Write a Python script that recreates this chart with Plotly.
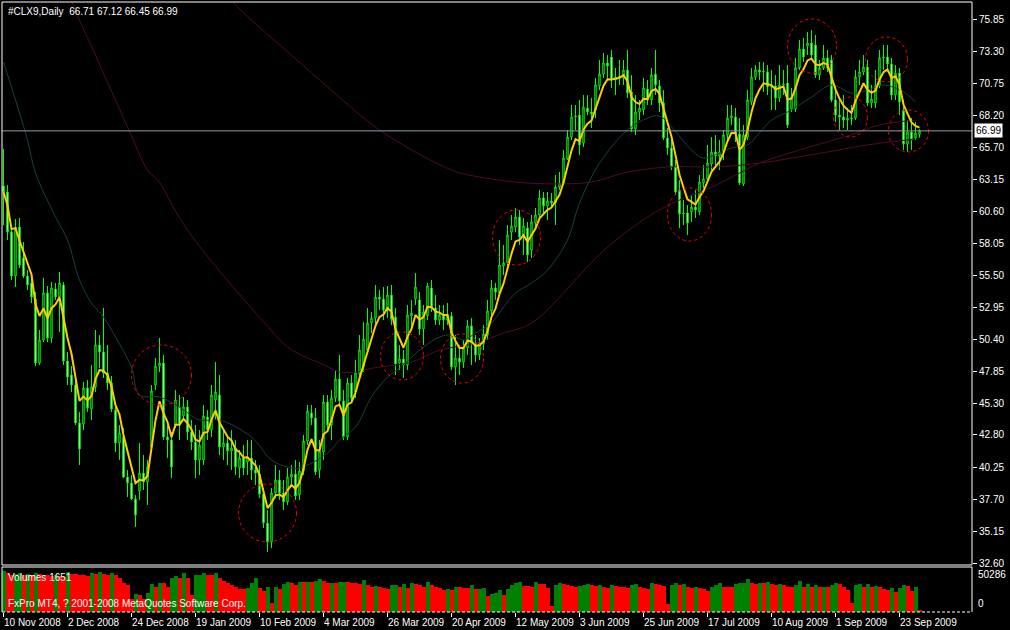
import plotly.graph_objects as go
import pandas as pd

# ---------------- data ----------------
date_labels = ["10 Nov 2008", "2 Dec 2008", "24 Dec 2008", "19 Jan 2009", "10 Feb 2009",
               "4 Mar 2009", "26 Mar 2009", "20 Apr 2009", "12 May 2009", "3 Jun 2009",
               "25 Jun 2009", "17 Jul 2009", "10 Aug 2009", "1 Sep 2009", "23 Sep 2009"]
date_bars = [0, 16, 32, 48, 64, 80, 96, 112, 128, 144, 160, 176, 192, 208, 224]

price_ticks = ["75.85", "73.30", "70.75", "68.20", "65.70", "63.15", "60.60", "58.05", "55.50",
               "52.95", "50.40", "47.85", "45.30", "42.80", "40.25", "37.70", "35.15", "32.60"]

opens = [62.60, 62.13, 58.94, 55.44, 59.34, 56.88, 55.44, 54.89, 53.61, 48.52,
         50.35, 54.09, 50.51, 54.41, 53.77, 54.73, 48.68, 47.57, 46.77, 43.75,
         43.67, 46.53, 44.86, 46.61, 49.96, 49.40, 47.73, 46.93, 44.78, 42.16,
         42.64, 39.45, 38.98, 37.71, 38.34, 39.77, 39.06, 41.84, 46.77, 48.28,
         48.52, 42.64, 42.40, 43.59, 45.02, 44.31, 45.02, 43.03, 42.24, 40.81,
         40.81, 44.23, 43.19, 45.58, 45.98, 41.84, 42.16, 41.52, 41.76, 40.17,
         40.97, 40.65, 40.97, 40.01, 39.69, 38.10, 35.79, 34.28, 38.18, 39.22,
         38.18, 37.47, 39.45, 39.69, 38.02, 39.93, 42.32, 44.55, 44.15, 40.01,
         41.44, 45.42, 43.59, 45.74, 47.25, 45.50, 42.64, 46.93, 46.22, 47.65,
         48.20, 49.56, 51.71, 52.10, 53.77, 53.61, 52.74, 53.93, 52.18, 48.52,
         48.84, 48.36, 52.26, 53.61, 53.54, 51.23, 52.26, 54.49, 52.90, 51.94,
         52.34, 51.94, 52.26, 48.20, 48.92, 48.60, 49.72, 51.47, 50.11, 49.16,
         50.04, 50.75, 52.66, 54.49, 54.09, 56.24, 56.48, 58.94, 59.34, 60.14,
         58.55, 59.26, 57.51, 59.66, 60.30, 61.65, 61.01, 61.41, 61.25, 62.52,
         62.84, 64.75, 66.50, 68.09, 68.25, 66.02, 68.81, 68.49, 68.65, 70.56,
         71.51, 72.39, 72.87, 71.04, 71.27, 71.20, 71.83, 70.08, 67.14, 68.49,
         68.65, 70.32, 69.45, 71.51, 70.56, 69.21, 66.42, 65.63, 64.12, 62.29,
         60.38, 60.46, 60.54, 60.93, 60.54, 62.84, 63.16, 64.35, 65.31, 64.99,
         65.31, 66.66, 68.01, 68.09, 66.74, 62.76, 66.50, 69.29, 71.27, 71.83,
         71.67, 71.67, 70.48, 70.56, 69.60, 70.64, 70.80, 68.73, 68.73, 72.01,
         73.50, 73.74, 73.98, 73.82, 71.43, 71.99, 72.79, 72.63, 69.45, 68.25,
         68.09, 67.85, 68.01, 68.01, 71.27, 71.67, 72.07, 69.21, 69.21, 70.64,
         72.79, 72.87, 72.31, 69.84, 71.59, 68.65, 65.95, 66.90, 66.42, 66.71]

highs = [65.55, 62.68, 59.26, 59.98, 60.06, 58.15, 55.92, 55.68, 54.17, 51.15,
         55.29, 54.65, 54.97, 54.89, 55.76, 54.97, 49.40, 48.28, 47.33, 44.63,
         47.01, 47.17, 48.36, 51.15, 50.75, 52.90, 49.96, 47.49, 45.18, 43.59,
         43.35, 40.01, 39.61, 38.02, 42.16, 41.20, 40.81, 46.77, 48.92, 50.51,
         49.16, 43.59, 43.03, 46.38, 45.98, 45.82, 45.58, 43.99, 43.59, 43.19,
         45.18, 44.78, 46.77, 48.60, 47.57, 43.19, 42.80, 43.19, 42.40, 41.60,
         42.00, 42.40, 42.40, 40.81, 40.41, 38.58, 36.83, 38.58, 40.41, 40.01,
         39.22, 40.17, 40.41, 40.81, 40.65, 42.80, 45.18, 45.18, 44.94, 42.40,
         45.98, 45.98, 46.38, 47.97, 49.16, 46.38, 47.33, 47.57, 48.76, 50.75,
         51.78, 52.90, 52.58, 54.73, 54.33, 54.57, 54.65, 54.73, 52.90, 49.96,
         49.56, 53.14, 53.54, 55.68, 54.17, 53.14, 54.89, 55.13, 53.93, 53.14,
         53.14, 53.30, 52.58, 50.75, 49.96, 50.35, 51.94, 52.10, 50.75, 50.51,
         51.55, 53.54, 55.13, 54.89, 58.31, 57.91, 59.50, 60.30, 60.85, 60.69,
         60.06, 59.74, 60.30, 60.85, 62.29, 62.13, 62.13, 62.05, 63.48, 63.72,
         65.47, 67.06, 69.05, 69.05, 69.45, 69.84, 69.84, 69.60, 71.20, 72.63,
         73.18, 73.02, 73.42, 71.99, 72.63, 72.63, 73.42, 71.43, 69.84, 69.45,
         71.20, 71.04, 71.99, 73.42, 71.04, 70.24, 67.22, 66.26, 64.67, 63.08,
         61.49, 61.09, 61.89, 62.29, 63.48, 64.27, 65.87, 66.50, 66.66, 66.26,
         67.06, 69.05, 69.05, 68.81, 68.01, 67.46, 70.24, 71.99, 72.23, 72.47,
         72.47, 72.23, 71.83, 71.43, 72.23, 71.83, 72.23, 70.40, 72.79, 74.22,
         74.38, 74.85, 75.01, 74.62, 72.63, 73.82, 73.42, 73.02, 70.64, 69.45,
         69.84, 68.81, 69.05, 71.83, 72.63, 73.02, 72.63, 70.64, 71.83, 73.42,
         73.82, 73.82, 72.79, 72.23, 71.99, 69.45, 67.85, 68.01, 67.69, 67.12]

lows = [59.50, 58.31, 55.13, 54.57, 56.08, 55.29, 54.33, 53.30, 48.28, 48.36,
        50.19, 50.19, 50.11, 53.54, 50.99, 48.36, 46.77, 46.22, 43.59, 40.41,
        43.19, 44.63, 43.99, 46.22, 48.13, 47.33, 46.38, 44.63, 41.44, 40.81,
        39.37, 37.86, 37.63, 35.48, 37.63, 38.42, 37.23, 41.60, 46.38, 47.81,
        42.40, 40.97, 39.37, 43.35, 42.40, 43.99, 42.40, 41.60, 39.37, 39.61,
        40.41, 42.40, 42.64, 43.99, 41.20, 40.81, 40.41, 40.01, 39.61, 39.37,
        39.61, 39.61, 39.22, 38.82, 37.78, 35.40, 33.49, 33.81, 37.78, 37.63,
        36.83, 37.23, 38.82, 37.63, 37.63, 39.61, 42.00, 43.59, 39.61, 39.37,
        40.81, 43.19, 42.40, 45.42, 45.18, 42.40, 42.40, 45.34, 45.74, 47.17,
        47.81, 49.40, 50.91, 51.55, 52.74, 51.94, 52.10, 51.55, 47.57, 47.97,
        47.33, 47.97, 51.15, 53.14, 50.75, 49.96, 51.94, 52.58, 51.55, 51.55,
        51.15, 51.55, 47.97, 46.77, 47.57, 48.13, 49.16, 48.36, 48.60, 48.76,
        49.56, 50.35, 52.34, 53.54, 53.93, 55.52, 56.08, 58.31, 58.94, 57.91,
        57.11, 56.56, 56.88, 59.10, 59.90, 60.30, 59.90, 60.85, 59.50, 62.29,
        62.68, 64.67, 66.26, 67.06, 65.07, 65.71, 68.25, 67.22, 68.01, 70.24,
        71.20, 71.04, 70.40, 69.84, 70.64, 70.64, 69.60, 66.90, 66.66, 67.85,
        68.25, 69.05, 69.05, 69.84, 68.49, 66.26, 65.07, 63.88, 61.89, 59.26,
        59.50, 58.71, 59.74, 60.06, 60.30, 62.44, 62.92, 63.88, 64.27, 63.88,
        64.67, 66.26, 67.46, 66.10, 62.68, 62.60, 66.26, 69.05, 71.04, 71.04,
        70.08, 69.84, 68.65, 68.65, 69.29, 69.84, 67.22, 68.49, 68.49, 71.83,
        72.47, 73.02, 72.63, 71.20, 71.04, 71.83, 71.67, 69.29, 67.69, 67.06,
        67.22, 67.06, 67.46, 67.85, 70.64, 71.43, 68.97, 68.81, 68.81, 70.40,
        71.83, 71.67, 69.45, 69.45, 68.25, 65.47, 65.31, 65.47, 66.26, 66.45]

closes = [62.13, 58.94, 55.44, 59.34, 56.32, 55.44, 54.73, 53.77, 48.52, 50.35,
          54.09, 50.51, 54.49, 53.77, 54.89, 48.68, 47.41, 46.77, 43.75, 41.68,
          46.53, 44.94, 46.61, 49.96, 49.40, 47.73, 46.93, 44.86, 42.16, 42.96,
          39.45, 38.98, 37.71, 36.43, 39.77, 39.06, 40.25, 46.30, 48.28, 48.52,
          42.64, 42.40, 40.25, 45.58, 43.59, 45.02, 43.03, 42.24, 40.81, 42.00,
          44.31, 43.19, 45.98, 46.22, 41.84, 42.16, 41.52, 41.76, 40.25, 40.97,
          40.17, 41.05, 40.01, 39.77, 38.10, 35.79, 34.28, 38.18, 39.22, 38.18,
          37.47, 39.45, 39.69, 37.94, 39.93, 42.32, 44.70, 44.15, 39.85, 41.52,
          45.42, 43.59, 45.74, 47.25, 45.50, 42.64, 46.93, 45.74, 47.73, 49.56,
          50.43, 51.71, 52.10, 53.77, 53.61, 52.74, 53.93, 52.02, 48.44, 48.84,
          48.36, 52.34, 52.50, 54.57, 51.23, 52.58, 54.65, 52.90, 51.94, 52.34,
          51.94, 52.34, 48.20, 48.92, 48.60, 49.72, 51.47, 50.11, 49.16, 50.04,
          50.83, 52.66, 54.49, 54.17, 56.32, 56.48, 58.71, 59.42, 60.14, 58.55,
          59.42, 57.11, 59.74, 60.30, 61.65, 61.01, 61.41, 61.25, 62.52, 62.84,
          64.83, 66.50, 68.09, 68.17, 65.87, 68.89, 68.49, 68.33, 70.64, 71.51,
          72.39, 72.15, 71.04, 71.27, 71.35, 71.83, 70.00, 67.14, 68.49, 68.81,
          70.40, 69.45, 71.43, 70.64, 69.21, 66.42, 65.63, 64.12, 62.13, 60.38,
          60.46, 59.66, 60.93, 60.69, 62.92, 63.16, 64.43, 65.31, 64.99, 65.31,
          66.66, 68.01, 68.17, 66.74, 62.84, 66.66, 69.45, 71.27, 71.83, 71.67,
          71.75, 70.48, 70.56, 69.60, 70.64, 70.72, 67.46, 69.68, 72.01, 73.50,
          72.87, 73.98, 73.02, 71.43, 71.99, 72.79, 71.99, 69.45, 68.25, 68.09,
          67.85, 68.01, 67.93, 71.27, 71.67, 72.07, 69.21, 69.52, 70.56, 72.79,
          72.87, 72.31, 69.84, 71.59, 69.29, 65.95, 66.90, 66.26, 66.82, 66.99]

volumes = [50286, 48204, 45320, 46556, 47380, 45320, 46556, 45320, 47380, 46556,
           45732, 45320, 44496, 45320, 44084, 43260, 49440, 46556, 46144, 45320,
           44908, 44084, 48204, 46556, 49440, 46556, 45320, 48204, 45320, 41200,
           35020, 32960, 16480, 22660, 20600, 16480, 23896, 34196, 30900, 35020,
           35020, 30900, 41200, 44496, 41200, 47380, 41200, 20600, 45320, 45700,
           47380, 45320, 45320, 47380, 41200, 38316, 35844, 32960, 30900, 28016,
           28016, 28840, 35020, 41200, 28840, 25956, 30076, 11124, 30076, 27604,
           34196, 37080, 35020, 32960, 37080, 36700, 37300, 36900, 38316, 39964,
           38316, 35020, 35500, 35020, 37080, 37300, 36900, 35844, 35020, 34196,
           39140, 32960, 30076, 31724, 30076, 28840, 27604, 32960, 33300, 30076,
           34196, 28840, 35020, 34196, 32960, 30900, 37080, 32960, 30900, 28840,
           26780, 27604, 27300, 30900, 30076, 29252, 29000, 32960, 28016, 28300,
           28840, 19364, 22660, 22900, 26780,
           20600, 27604, 32960, 35020, 36256, 31724, 31500, 30900, 37080, 34196,
           34000, 28840, 7004, 32960, 35020, 34196, 32960, 31724, 30900, 31724,
           32960, 34196, 32960, 31724, 32960, 30900, 28840, 32960, 31724, 30900,
           30076, 28840, 32960, 34196, 30900, 28840, 27604, 35020, 34196, 32960,
           31724, 9476, 32960, 35844, 32960, 34196, 30900, 28840, 30076, 28840,
           28600, 25956, 30076, 32960, 35020, 30900, 30700, 30076, 34196, 35844,
           36000, 39964, 35020, 34196, 35844, 35020, 36668, 34196, 33372, 34196,
           32960, 30900, 30076, 32960, 38316, 30900, 34196, 30900, 32960, 30076,
           30900, 30076, 32960, 35844, 34196, 30900, 26780, 11124, 32960, 34196,
           30900, 33784, 30900, 31300, 30076, 27604, 27300, 28840, 24720, 28840,
           32960, 31724, 25956, 30900, 1651]

# moving averages (bar index, price)
ma_teal_bar = [0, 3, 6, 8, 13, 16, 19, 22, 25, 28, 32, 34, 39, 44, 49, 54, 62, 67, 71, 74,
               81, 84, 88, 92, 96, 99, 105, 109, 112, 115, 118, 122, 125, 128, 132, 136, 141, 144, 149, 156,
               161, 164, 167, 172, 175, 179, 182, 186, 189, 192, 197, 202, 207, 212, 216, 220, 225, 228]
ma_teal_val = [72.47, 69.45, 66.26, 63.64, 60.14, 58.31, 55.13, 53.30, 52.18, 50.59,
               48.20, 45.98, 45.82, 45.02, 43.99, 43.99, 42.64, 40.81, 40.25, 40.17,
               41.36, 42.40, 43.43, 45.82, 47.41, 48.12, 49.80, 50.59, 50.75, 50.35,
               50.91, 51.71, 52.98, 54.09, 54.89, 55.92, 58.31, 61.25, 64.43, 67.06,
               68.01, 68.17, 67.30, 65.47, 64.83, 65.23, 65.63, 65.87, 66.82, 67.85,
               68.65, 69.68, 70.64, 70.00, 70.24, 70.64, 70.08, 69.29]
ma_fast_bar = [17, 18, 23, 32, 36, 39, 43, 49, 67, 71, 76, 79, 84, 88, 92, 102, 109, 118, 125, 132,
               150, 161, 169, 177, 184, 189, 199, 212, 219, 228]
ma_fast_val = [77.40, 76.50, 73.00, 66.60, 63.88, 62.90, 60.60, 57.80, 51.10, 49.80,
               48.92, 48.55, 47.82, 47.80, 48.10, 48.60, 49.55, 50.10, 50.91, 51.70,
               57.45, 60.14, 61.49, 62.50, 63.63, 64.43, 65.47, 66.68, 67.46, 67.84]
ma_slow_bar = [57, 62, 72, 82, 94, 112, 119, 132, 147, 155, 166, 178, 189, 204, 216, 228]
ma_slow_val = [77.35, 75.80, 73.00, 70.22, 67.06, 63.88, 63.32, 62.82, 62.92, 63.64,
               64.12, 64.12, 64.43, 65.20, 65.87, 66.34]

# hand-drawn ellipses on the chart: (bar from, bar to, price low, price high)
ellipses = [(32, 47, 45.18, 49.96), (58.75, 73.25, 34.29, 38.90), (94.25, 105, 47.17, 50.99),
            (109.25, 120, 46.93, 50.83), (122.25, 134.25, 56.32, 60.70), (166, 177, 58.23, 62.45),
            (196, 208.25, 71.59, 75.89), (207.5, 216, 66.50, 69.68), (215.5, 226, 70.88, 74.46),
            (221.25, 231.25, 65.31, 68.65)]

symbol_title = "#CLX9,Daily\u00a0\u00a066.71 67.12 66.45 66.99"
last_price = 66.99
vol_max_label = 50286

# ---------------- figure ----------------
bars = list(range(len(closes)))
ema_fast = pd.Series(closes).ewm(span=5, adjust=False).mean()
vol_colors = ["#008000"] + ["#008000" if volumes[i] > volumes[i - 1] else "#ff0000"
                            for i in range(1, len(volumes))]

FONT = "Liberation Sans"
main_bottom = 47 / 610
vol_top = 45 / 610

fig = go.Figure()
fig.add_trace(go.Candlestick(
    x=bars, open=opens, high=highs, low=lows, close=closes,
    increasing=dict(line=dict(color="#00ff00", width=1), fillcolor="#000000"),
    decreasing=dict(line=dict(color="#00ff00", width=1), fillcolor="#ffffff"),
    whiskerwidth=0, xaxis="x", yaxis="y", hoverinfo="skip"))
fig.add_trace(go.Scatter(x=ma_slow_bar, y=ma_slow_val, mode="lines",
                         line=dict(color="#4e0c26", width=1, shape="spline"), xaxis="x", yaxis="y"))
fig.add_trace(go.Scatter(x=ma_fast_bar, y=ma_fast_val, mode="lines",
                         line=dict(color="#4e0c26", width=1, shape="spline"), xaxis="x", yaxis="y"))
fig.add_trace(go.Scatter(x=ma_teal_bar, y=ma_teal_val, mode="lines",
                         line=dict(color="#17423a", width=1, shape="spline"), xaxis="x", yaxis="y"))
fig.add_trace(go.Scatter(x=bars, y=ema_fast, mode="lines",
                         line=dict(color="#ffcc00", width=2), xaxis="x", yaxis="y"))
fig.add_trace(go.Bar(x=bars, y=volumes, marker=dict(color=vol_colors, line=dict(width=0)),
                     width=1.0, xaxis="x2", yaxis="y2"))

shapes = []
for (x0, x1, y0, y1) in ellipses:
    shapes.append(dict(type="circle", xref="x", yref="y", x0=x0, x1=x1, y0=y0, y1=y1,
                       line=dict(color="#ff0000", width=1, dash="3px,3px")))
shapes.append(dict(type="line", xref="paper", yref="y", x0=0, x1=1, y0=last_price, y1=last_price,
                   line=dict(color="#8f9ba8", width=1)))
# panel frames
shapes.append(dict(type="rect", xref="paper", yref="paper", x0=0, x1=1, y0=main_bottom, y1=1,
                   line=dict(color="#ffffff", width=1)))
for xs, ys in [((0, 0), (0, vol_top)), ((1, 1), (0, vol_top)), ((0, 1), (vol_top, vol_top))]:
    shapes.append(dict(type="line", xref="paper", yref="paper", x0=xs[0], x1=xs[1], y0=ys[0], y1=ys[1],
                       line=dict(color="#ffffff", width=1)))
shapes.append(dict(type="line", xref="paper", yref="paper", x0=0, x1=1, y0=0, y1=0,
                   line=dict(color="#ffffff", width=1, dash="3px,2px")))

annotations = [
    dict(text=symbol_title, xref="paper", yref="paper", x=0, y=1, xanchor="left", yanchor="top",
         xshift=4, yshift=-2, showarrow=False, font=dict(family=FONT, size=10, color="#ffffff")),
    dict(text="Volumes 1651", xref="paper", yref="paper", x=0, y=vol_top, xanchor="left", yanchor="top",
         xshift=4, yshift=-3, showarrow=False, font=dict(family=FONT, size=10, color="#ffffff")),
    dict(text="FxPro MT4, ? 2001-2008 MetaQuotes Software Corp.", xref="paper", yref="paper", x=0, y=0,
         xanchor="left", yanchor="bottom", xshift=4, yshift=1, showarrow=False,
         font=dict(family=FONT, size=10, color="#ffffff")),
    dict(text=f"{last_price:.2f}", xref="paper", yref="y", x=1, y=last_price, xanchor="left",
         yanchor="middle", xshift=2, showarrow=False, bgcolor="#ffffff", borderpad=1,
         font=dict(family=FONT, size=10, color="#000000")),
    dict(text=str(vol_max_label), xref="paper", yref="y2", x=1, y=vol_max_label, xanchor="left",
         yanchor="middle", xshift=4, yshift=-3, showarrow=False,
         font=dict(family=FONT, size=10, color="#ffffff")),
    dict(text="0", xref="paper", yref="y2", x=1, y=0, xanchor="left", yanchor="bottom",
         xshift=4, yshift=1, showarrow=False, font=dict(family=FONT, size=10, color="#ffffff")),
]
for b, lab in zip(date_bars, date_labels):
    annotations.append(dict(text=lab, xref="x2", yref="paper", x=b, y=0, xanchor="left", yanchor="top",
                            xshift=-2, yshift=-3, showarrow=False,
                            font=dict(family=FONT, size=10, color="#ffffff")))

xr = [-0.375, 242.125]
fig.update_layout(
    width=1010, height=630,
    paper_bgcolor="#000000", plot_bgcolor="#000000",
    margin=dict(l=2, r=38, t=2, b=18),
    showlegend=False, hovermode=False, bargap=0, boxgap=0.5,
    xaxis=dict(domain=[0, 1], anchor="y", range=xr, showticklabels=False, showgrid=False,
               zeroline=False, ticks="", rangeslider=dict(visible=False)),
    xaxis2=dict(domain=[0, 1], anchor="y2", range=xr, matches="x", showgrid=False, zeroline=False,
                tickmode="array", tickvals=date_bars, showticklabels=False,
                ticks="outside", ticklen=4, tickcolor="#ffffff", tickwidth=1),
    yaxis=dict(domain=[main_bottom, 1], anchor="x", side="right", range=[32.455, 77.242],
               tickmode="array", tickvals=[float(t) for t in price_ticks], ticktext=price_ticks,
               ticks="outside", ticklen=4, tickcolor="#ffffff", showgrid=False, zeroline=False,
               tickfont=dict(family=FONT, size=10, color="#ffffff")),
    yaxis2=dict(domain=[0, vol_top], anchor="x2", range=[0, 55192], showticklabels=False,
                showgrid=False, zeroline=False, ticks=""),
    shapes=shapes, annotations=annotations,
)

fig.write_html("out.html", config={"displayModeBar": False},
               post_script="document.body.style.margin='0';document.body.style.overflow='hidden';")
